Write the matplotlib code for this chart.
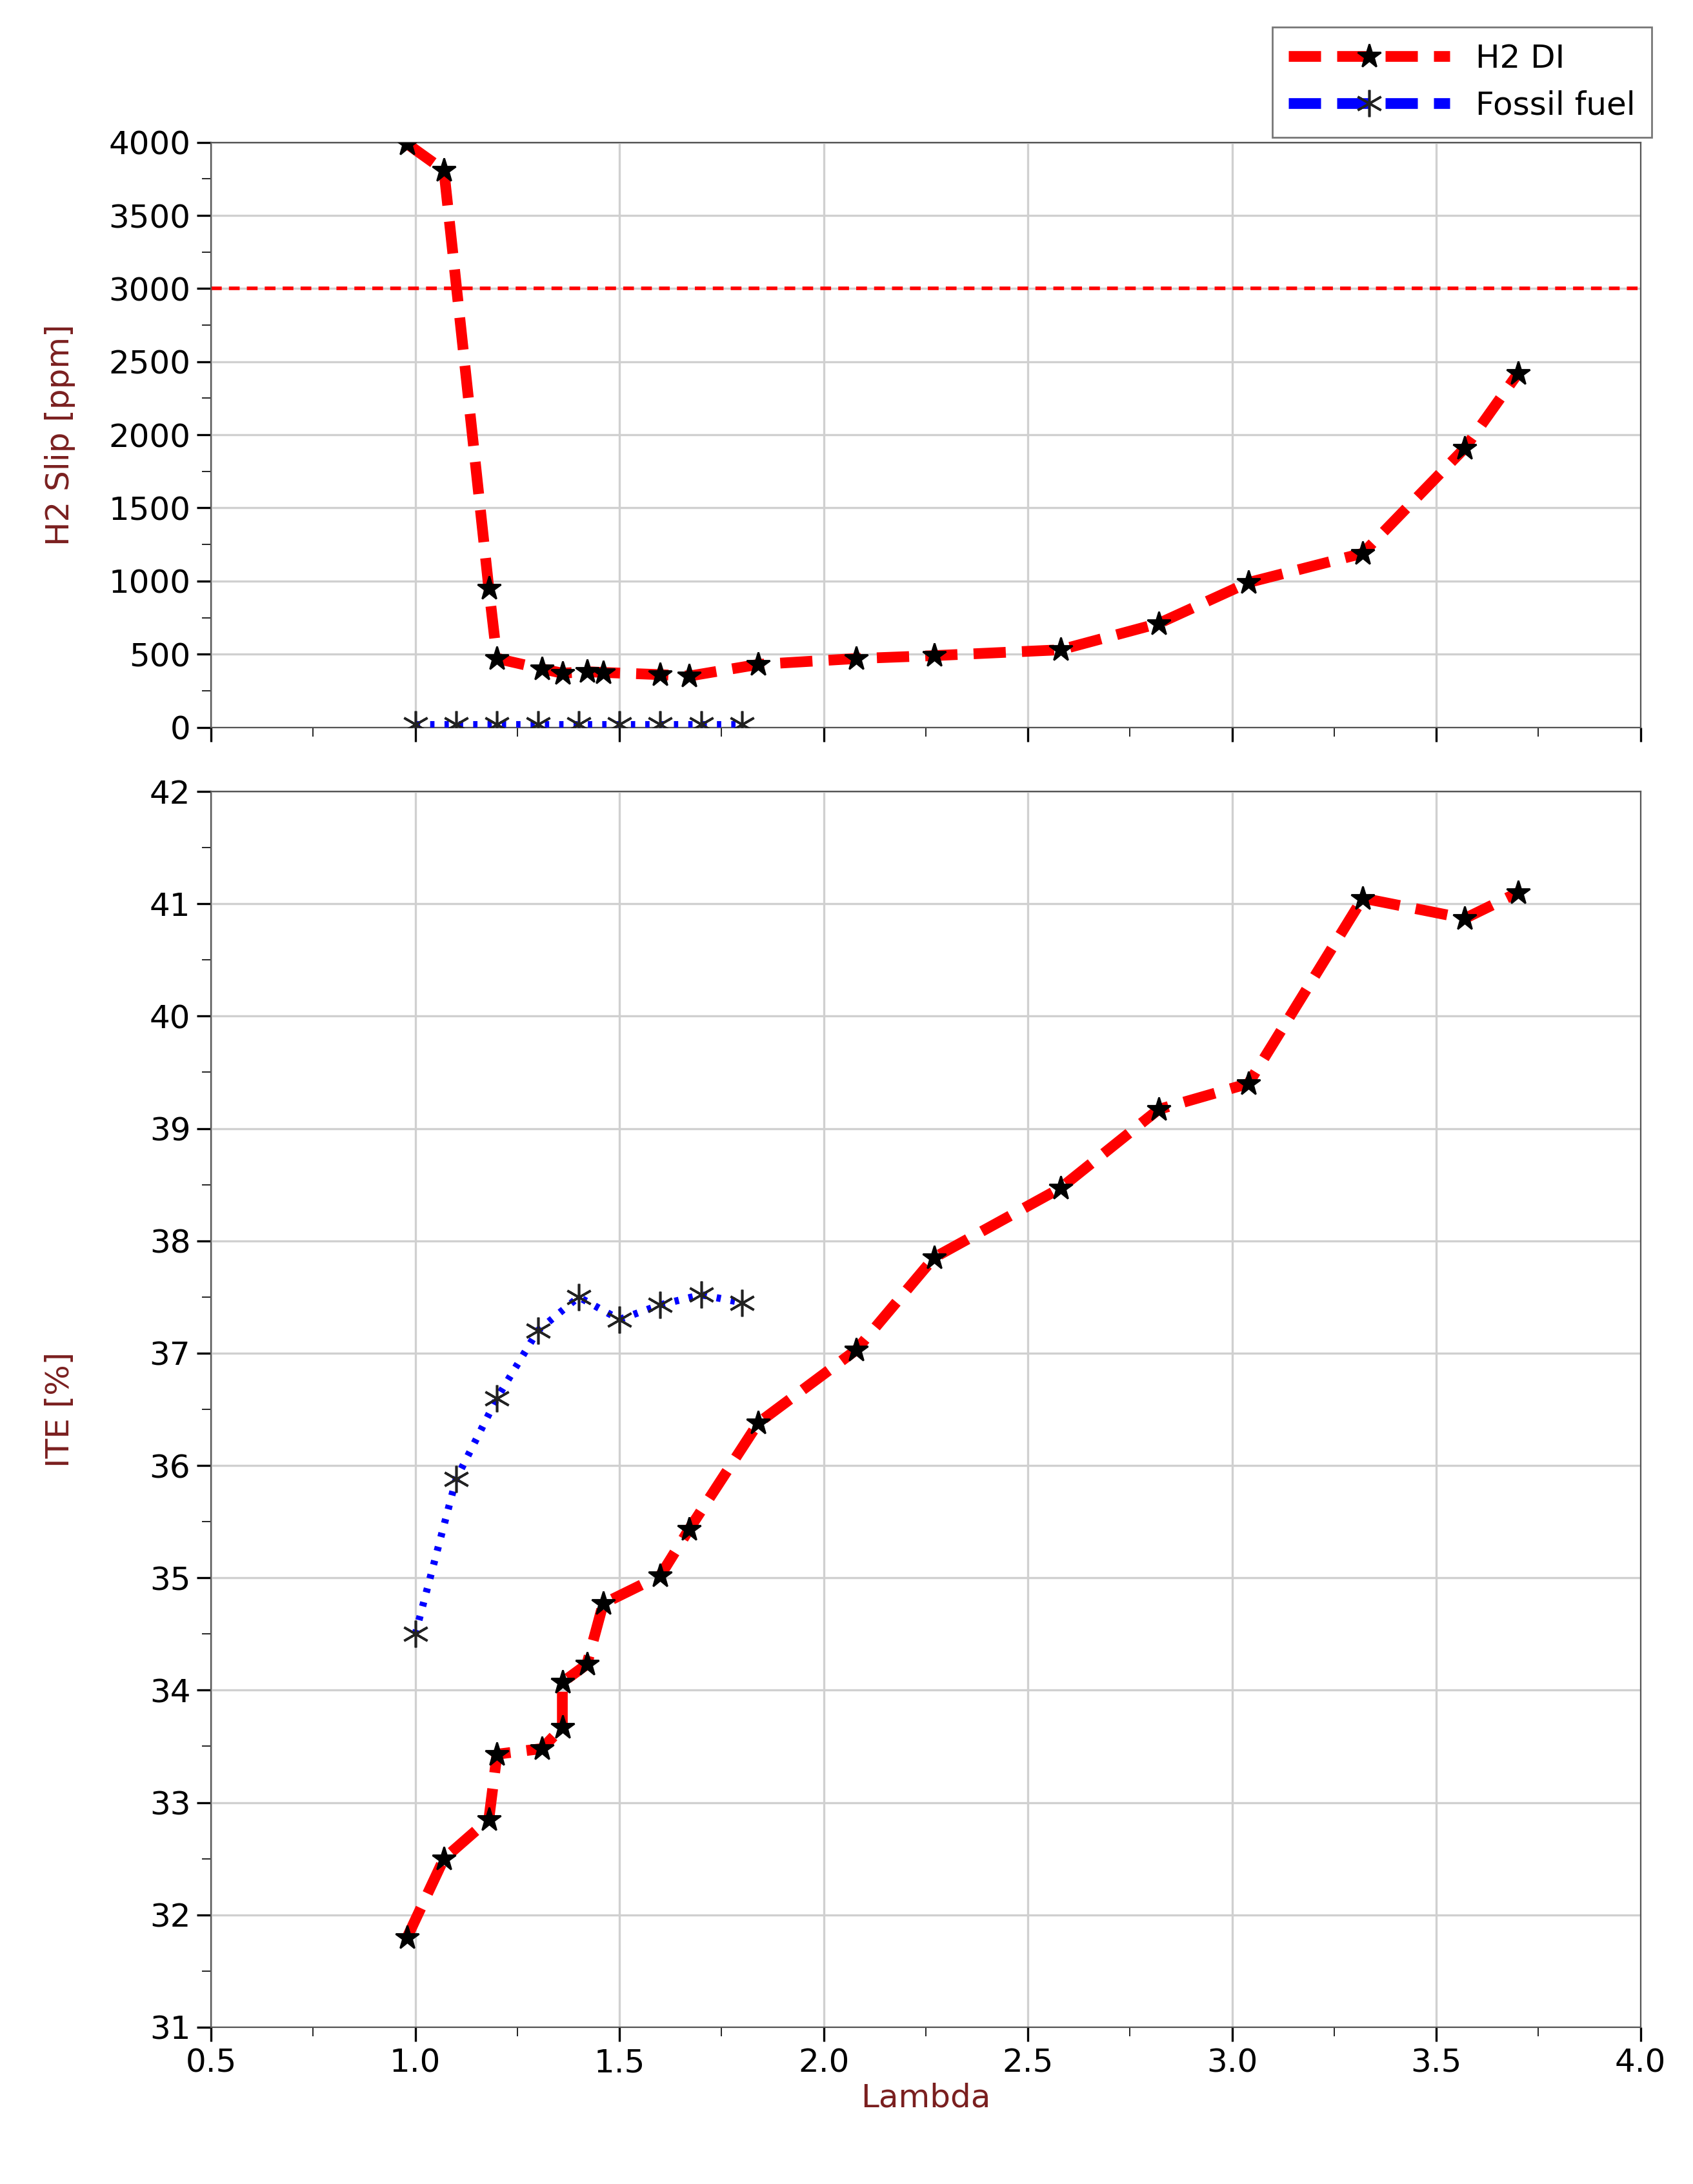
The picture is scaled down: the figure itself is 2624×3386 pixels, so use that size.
import matplotlib
matplotlib.use("Agg")
import matplotlib.pyplot as plt
from matplotlib.ticker import MultipleLocator
from matplotlib.lines import Line2D

h2_lambda = [0.98, 1.07, 1.18, 1.20, 1.31, 1.36, 1.36, 1.42, 1.46, 1.60, 1.67, 1.84, 2.08, 2.27, 2.58, 2.82, 3.04, 3.32, 3.57, 3.70]
h2_slip_lambda = [0.98, 1.07, 1.18, 1.20, 1.31, 1.36, 1.42, 1.46, 1.60, 1.67, 1.84, 2.08, 2.27, 2.58, 2.82, 3.04, 3.32, 3.57, 3.70]
h2_slip = [3990, 3810, 950, 470, 400, 370, 380, 375, 360, 350, 430, 470, 490, 530, 710, 990, 1190, 1910, 2420]
h2_ite = [31.8, 32.5, 32.85, 33.43, 33.48, 33.67, 34.07, 34.23, 34.77, 35.02, 35.43, 36.38, 37.03, 37.85, 38.47, 39.17, 39.40, 41.05, 40.87, 41.10]
ff_lambda = [1.0, 1.1, 1.2, 1.3, 1.4, 1.5, 1.6, 1.7, 1.8]
ff_slip = [20, 20, 20, 20, 20, 20, 20, 20, 20]
ff_ite = [34.5, 35.88, 36.6, 37.2, 37.5, 37.3, 37.43, 37.52, 37.45]
slip_limit = 3000

plt.rcParams['font.family'] = ['DejaVu Sans']
lab_col = '#7a1f1f'
fs = 18
fig = plt.figure(figsize=(13.12, 16.93), dpi=200)
ax1 = fig.add_axes([0.1247, 0.667, 0.8443, 0.2678])
ax2 = fig.add_axes([0.1247, 0.0718, 0.8443, 0.5658])

h2kw = dict(color='red', lw=6, dashes=(3, 1.5), marker='*', ms=14, mfc='black', mec='black', zorder=3)
ast = (6, 2, 0)
ffkw = dict(color='blue', lw=4, ls=(0, (0.6, 1.4)), marker=ast, ms=15, mec='#222222', mew=1.3, zorder=3)
ax1.plot(h2_slip_lambda, h2_slip, **h2kw)
ax1.plot(ff_lambda, ff_slip, **ffkw)
ax1.axhline(slip_limit, color='red', lw=2, ls=(0, (3, 2)), zorder=2)
ax2.plot(h2_lambda, h2_ite, **h2kw)
ax2.plot(ff_lambda, ff_ite, **ffkw)

for ax in (ax1, ax2):
    ax.set_xlim(0.5, 4.0)
    ax.xaxis.set_major_locator(MultipleLocator(0.5))
    ax.xaxis.set_minor_locator(MultipleLocator(0.25))
    ax.grid(True, which='major', color='#d0d0d0', lw=1.2)
    ax.tick_params(labelsize=fs, length=8, width=1.2)
    ax.tick_params(which='minor', length=5)
    for s in ax.spines.values():
        s.set_color('#555555')
ax1.set_ylim(0, 4000)
ax1.yaxis.set_major_locator(MultipleLocator(500))
ax1.yaxis.set_minor_locator(MultipleLocator(250))
ax1.tick_params(axis='x', labelbottom=False)
ax1.set_ylabel('H2 Slip [ppm]', fontsize=fs, color=lab_col)
ax2.set_ylim(31, 42)
ax2.yaxis.set_major_locator(MultipleLocator(1))
ax2.yaxis.set_minor_locator(MultipleLocator(0.5))
ax2.set_ylabel('ITE [%]', fontsize=fs, color=lab_col)
ax2.set_xlabel('Lambda', fontsize=fs, color=lab_col, labelpad=2)
ax1.yaxis.set_label_coords(-0.095, 0.5)
ax2.yaxis.set_label_coords(-0.095, 0.5)

handles = [Line2D([], [], **{k: v for k, v in h2kw.items() if k != 'zorder'}),
           Line2D([], [], color='blue', lw=6, dashes=(3, 1.5), marker=ast, ms=15, mec='#222222', mew=1.3)]
leg = fig.legend(handles, ['H2 DI', 'Fossil fuel'], loc='upper left', bbox_to_anchor=(0.742, 0.995),
                 fontsize=fs, frameon=True, fancybox=False, handlelength=5, borderpad=0.5)
leg.get_frame().set_edgecolor('#555555')
fig.savefig('out.png', dpi=200)
